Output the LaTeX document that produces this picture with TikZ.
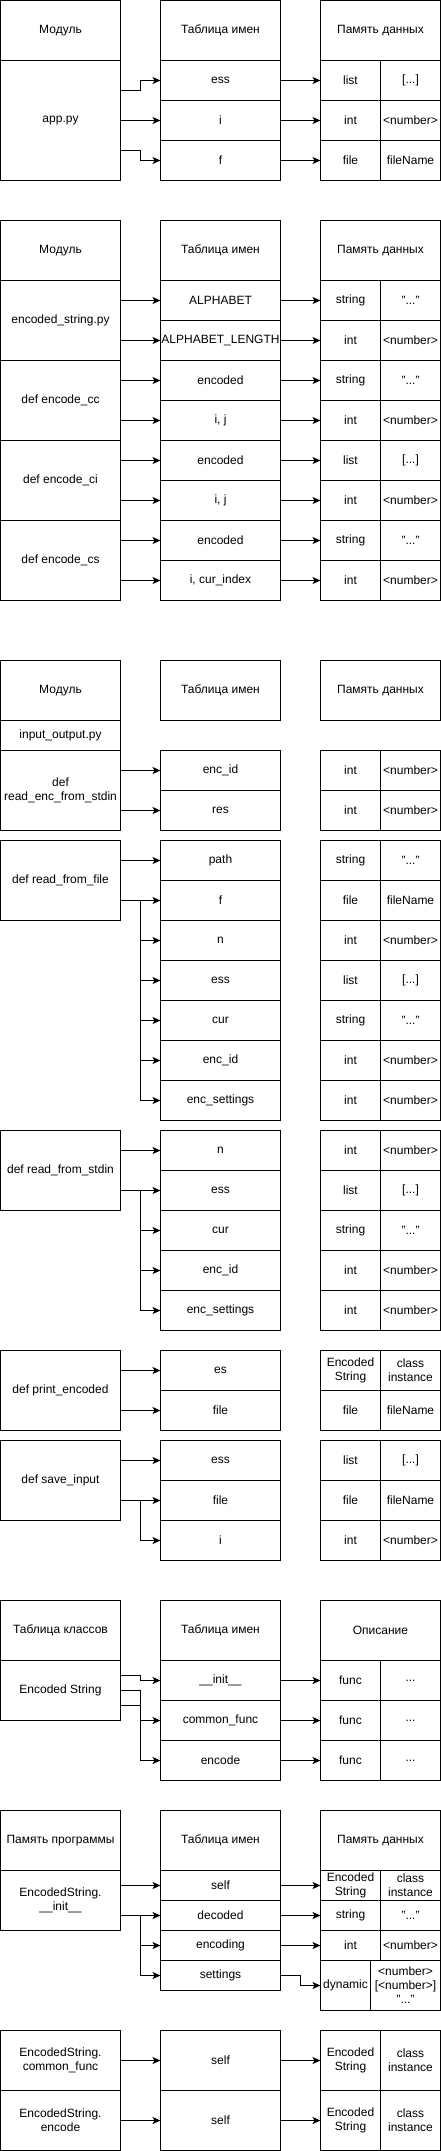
\documentclass[tikz,border=0pt]{standalone}
\usepackage{fontspec}
\setmainfont{Liberation Sans}
\usepackage{tikz}
\usetikzlibrary{arrows.meta}

\begin{document}
\begin{tikzpicture}[x=1pt, y=-1pt,
    box/.style={draw, line width=1pt, inner sep=0pt, outer sep=0pt, anchor=north west,
        align=center, font=\fontsize{12}{14}\selectfont},
    headbox/.style={box, minimum width=120pt, minimum height=60pt},
    varbox/.style={box, minimum width=120pt, minimum height=40pt},
    membox/.style={box, minimum width=60pt, minimum height=40pt},
    link/.style={-{Stealth[length=8pt, width=7pt, inset=2pt]}, line width=1pt}]
        \useasboundingbox (-0.5,-0.5) rectangle (440.5,2150.5);

        % app.py
        \node[headbox] (appHead) at (0,0) {Модуль};
        \node[headbox] (appNames) at (160,0) {Таблица имен};
        \node[headbox] (appData) at (320,0) {Память данных};
        \node[headbox, minimum height=120pt] (appPy) at (0,60) {app.py};
        \node[varbox] (appEss) at (160,60) {ess};
        \node[varbox] (appI) at (160,100) {i};
        \node[varbox] (appF) at (160,140) {f};
        \node[membox] (appEssT) at (320,60) {list};
        \node[membox] (appEssV) at (380,60) {[...]};
        \node[membox] (appIT) at (320,100) {int};
        \node[membox] (appIV) at (380,100) {<number>};
        \node[membox] (appFT) at (320,140) {file};
        \node[membox] (appFV) at (380,140) {fileName};

        \draw[link] ([yshift=30pt]appPy.east) -- ++(20,0) |- (appEss.west);
        \draw[link] (appPy.east) -- (appI.west);
        \draw[link] ([yshift=-30pt]appPy.east) -- ++(20,0) |- (appF.west);
        \draw[link] (appEss.east) -- (appEssT.west);
        \draw[link] (appI.east) -- (appIT.west);
        \draw[link] (appF.east) -- (appFT.west);

        % encoded_string.py
        \node[headbox] (esHead) at (0,220) {Модуль};
        \node[headbox] (esNames) at (160,220) {Таблица имен};
        \node[headbox] (esData) at (320,220) {Память данных};
        \node[headbox, minimum height=80pt] (esPy) at (0,280) {encoded\_string.py};
        \node[headbox, minimum height=80pt] (esCC) at (0,360) {def encode\_cc};
        \node[headbox, minimum height=80pt] (esCI) at (0,440) {def encode\_ci};
        \node[headbox, minimum height=80pt] (esCS) at (0,520) {def encode\_cs};
        \node[varbox] (esAlph) at (160,280) {ALPHABET};
        \node[varbox] (esLen) at (160,320) {ALPHABET\_LENGTH};
        \node[varbox] (ccEnc) at (160,360) {encoded};
        \node[varbox] (ccIJ) at (160,400) {i, j};
        \node[varbox] (ciEnc) at (160,440) {encoded};
        \node[varbox] (ciIJ) at (160,480) {i, j};
        \node[varbox] (csEnc) at (160,520) {encoded};
        \node[varbox] (csIdx) at (160,560) {i, cur\_index};
        \node[membox] (esAlphT) at (320,280) {string};
        \node[membox] (esAlphV) at (380,280) {"..."};
        \node[membox] (esLenT) at (320,320) {int};
        \node[membox] (esLenV) at (380,320) {<number>};
        \node[membox] (ccEncT) at (320,360) {string};
        \node[membox] (ccEncV) at (380,360) {"..."};
        \node[membox] (ccIJT) at (320,400) {int};
        \node[membox] (ccIJV) at (380,400) {<number>};
        \node[membox] (ciEncT) at (320,440) {list};
        \node[membox] (ciEncV) at (380,440) {[...]};
        \node[membox] (ciIJT) at (320,480) {int};
        \node[membox] (ciIJV) at (380,480) {<number>};
        \node[membox] (csEncT) at (320,520) {string};
        \node[membox] (csEncV) at (380,520) {"..."};
        \node[membox] (csIdxT) at (320,560) {int};
        \node[membox] (csIdxV) at (380,560) {<number>};

        \draw[link] (esPy.east |- esAlph) -- (esAlph.west);
        \draw[link] (esPy.east |- esLen) -- (esLen.west);
        \draw[link] (esCC.east |- ccEnc) -- (ccEnc.west);
        \draw[link] (esCC.east |- ccIJ) -- (ccIJ.west);
        \draw[link] (esCI.east |- ciEnc) -- (ciEnc.west);
        \draw[link] (esCI.east |- ciIJ) -- (ciIJ.west);
        \draw[link] (esCS.east |- csEnc) -- (csEnc.west);
        \draw[link] (esCS.east |- csIdx) -- (csIdx.west);
        \draw[link] (esAlph.east) -- (esAlphT.west);
        \draw[link] (esLen.east) -- (esLenT.west);
        \draw[link] (ccEnc.east) -- (ccEncT.west);
        \draw[link] (ccIJ.east) -- (ccIJT.west);
        \draw[link] (ciEnc.east) -- (ciEncT.west);
        \draw[link] (ciIJ.east) -- (ciIJT.west);
        \draw[link] (csEnc.east) -- (csEncT.west);
        \draw[link] (csIdx.east) -- (csIdxT.west);

        % input_output.py
        \node[headbox] (ioHead) at (0,660) {Модуль};
        \node[headbox] (ioNames) at (160,660) {Таблица имен};
        \node[headbox] (ioData) at (320,660) {Память данных};
        \node[headbox, minimum height=30pt] (ioPy) at (0,720) {input\_output.py};

        % def read_enc_from_stdin
        \node[headbox, minimum height=80pt] (rEnc) at (0,750) {def\\read\_enc\_from\_stdin};
        \node[varbox] (reId) at (160,750) {enc\_id};
        \node[varbox] (reRes) at (160,790) {res};
        \node[membox] (reIdT) at (320,750) {int};
        \node[membox] (reIdV) at (380,750) {<number>};
        \node[membox] (reResT) at (320,790) {int};
        \node[membox] (reResV) at (380,790) {<number>};
        \draw[link] (rEnc.east |- reId) -- (reId.west);
        \draw[link] (rEnc.east |- reRes) -- (reRes.west);

        % def read_from_file
        \node[headbox, minimum height=80pt] (rFile) at (0,840) {def read\_from\_file};
        \node[varbox] (rfPath) at (160,840) {path};
        \node[varbox] (rfF) at (160,880) {f};
        \node[varbox] (rfN) at (160,920) {n};
        \node[varbox] (rfEss) at (160,960) {ess};
        \node[varbox] (rfCur) at (160,1000) {cur};
        \node[varbox] (rfId) at (160,1040) {enc\_id};
        \node[varbox] (rfSet) at (160,1080) {enc\_settings};
        \node[membox] (rfPathT) at (320,840) {string};
        \node[membox] (rfPathV) at (380,840) {"..."};
        \node[membox] (rfFT) at (320,880) {file};
        \node[membox] (rfFV) at (380,880) {fileName};
        \node[membox] (rfNT) at (320,920) {int};
        \node[membox] (rfNV) at (380,920) {<number>};
        \node[membox] (rfEssT) at (320,960) {list};
        \node[membox] (rfEssV) at (380,960) {[...]};
        \node[membox] (rfCurT) at (320,1000) {string};
        \node[membox] (rfCurV) at (380,1000) {"..."};
        \node[membox] (rfIdT) at (320,1040) {int};
        \node[membox] (rfIdV) at (380,1040) {<number>};
        \node[membox] (rfSetT) at (320,1080) {int};
        \node[membox] (rfSetV) at (380,1080) {<number>};
        \draw[link] (rFile.east |- rfPath) -- (rfPath.west);
        \draw[link] (rFile.east |- rfF) -- (rfF.west);
        \draw[link] (rFile.east |- rfF) -- ++(20,0) |- (rfN.west);
        \draw[link] (rFile.east |- rfF) -- ++(20,0) |- (rfEss.west);
        \draw[link] (rFile.east |- rfF) -- ++(20,0) |- (rfCur.west);
        \draw[link] (rFile.east |- rfF) -- ++(20,0) |- (rfId.west);
        \draw[link] (rFile.east |- rfF) -- ++(20,0) |- (rfSet.west);

        % def read_from_stdin
        \node[headbox, minimum height=80pt] (rStd) at (0,1130) {def read\_from\_stdin};
        \node[varbox] (rsN) at (160,1130) {n};
        \node[varbox] (rsEss) at (160,1170) {ess};
        \node[varbox] (rsCur) at (160,1210) {cur};
        \node[varbox] (rsId) at (160,1250) {enc\_id};
        \node[varbox] (rsSet) at (160,1290) {enc\_settings};
        \node[membox] (rsNT) at (320,1130) {int};
        \node[membox] (rsNV) at (380,1130) {<number>};
        \node[membox] (rsEssT) at (320,1170) {list};
        \node[membox] (rsEssV) at (380,1170) {[...]};
        \node[membox] (rsCurT) at (320,1210) {string};
        \node[membox] (rsCurV) at (380,1210) {"..."};
        \node[membox] (rsIdT) at (320,1250) {int};
        \node[membox] (rsIdV) at (380,1250) {<number>};
        \node[membox] (rsSetT) at (320,1290) {int};
        \node[membox] (rsSetV) at (380,1290) {<number>};
        \draw[link] (rStd.east |- rsN) -- (rsN.west);
        \draw[link] (rStd.east |- rsEss) -- (rsEss.west);
        \draw[link] (rStd.east |- rsEss) -- ++(20,0) |- (rsCur.west);
        \draw[link] (rStd.east |- rsEss) -- ++(20,0) |- (rsId.west);
        \draw[link] (rStd.east |- rsEss) -- ++(20,0) |- (rsSet.west);

        % def print_encoded
        \node[headbox, minimum height=80pt] (pEnc) at (0,1350) {def print\_encoded};
        \node[varbox] (peEs) at (160,1350) {es};
        \node[varbox] (peFile) at (160,1390) {file};
        \node[membox] (peEsT) at (320,1350) {Encoded\\String};
        \node[membox] (peEsV) at (380,1350) {class\\instance};
        \node[membox] (peFileT) at (320,1390) {file};
        \node[membox] (peFileV) at (380,1390) {fileName};
        \draw[link] (pEnc.east |- peEs) -- (peEs.west);
        \draw[link] (pEnc.east |- peFile) -- (peFile.west);

        % def save_input
        \node[headbox, minimum height=80pt] (sInp) at (0,1440) {def save\_input};
        \node[varbox] (siEss) at (160,1440) {ess};
        \node[varbox] (siFile) at (160,1480) {file};
        \node[varbox] (siI) at (160,1520) {i};
        \node[membox] (siEssT) at (320,1440) {list};
        \node[membox] (siEssV) at (380,1440) {[...]};
        \node[membox] (siFileT) at (320,1480) {file};
        \node[membox] (siFileV) at (380,1480) {fileName};
        \node[membox] (siIT) at (320,1520) {int};
        \node[membox] (siIV) at (380,1520) {<number>};
        \draw[link] (sInp.east |- siEss) -- (siEss.west);
        \draw[link] (sInp.east |- siFile) -- (siFile.west);
        \draw[link] (sInp.east |- siFile) -- ++(20,0) |- (siI.west);

        % class table
        \node[headbox] (clsHead) at (0,1600) {Таблица классов};
        \node[headbox] (clsNames) at (160,1600) {Таблица имен};
        \node[headbox] (clsDescr) at (320,1600) {Описание};
        \node[headbox] (clsES) at (0,1660) {Encoded String};
        \node[varbox] (clsInit) at (160,1660) {\_\_init\_\_};
        \node[varbox] (clsCommon) at (160,1700) {common\_func};
        \node[varbox] (clsEncode) at (160,1740) {encode};
        \node[membox] (clsInitT) at (320,1660) {func};
        \node[membox] (clsInitV) at (380,1660) {...};
        \node[membox] (clsCommonT) at (320,1700) {func};
        \node[membox] (clsCommonV) at (380,1700) {...};
        \node[membox] (clsEncodeT) at (320,1740) {func};
        \node[membox] (clsEncodeV) at (380,1740) {...};
        \draw[link] ([yshift=15pt]clsES.east) -- ++(20,0) |- (clsInit.west);
        \draw[link] (clsES.east) -- ++(20,0) |- (clsCommon.west);
        \draw[link] ([yshift=-15pt]clsES.east) -- ++(20,0) |- (clsEncode.west);
        \draw[link] (clsInit.east) -- (clsInitT.west);
        \draw[link] (clsCommon.east) -- (clsCommonT.west);
        \draw[link] (clsEncode.east) -- (clsEncodeT.west);

        % EncodedString.__init__
        \node[headbox] (prgHead) at (0,1810) {Память программы};
        \node[headbox] (prgNames) at (160,1810) {Таблица имен};
        \node[headbox] (prgData) at (320,1810) {Память данных};
        \node[headbox] (initMod) at (0,1870) {EncodedString.\\\_\_init\_\_};
        \node[varbox, minimum height=30pt] (inSelf) at (160,1870) {self};
        \node[varbox, minimum height=30pt] (inDec) at (160,1900) {decoded};
        \node[varbox, minimum height=30pt] (inEnc) at (160,1930) {encoding};
        \node[varbox, minimum height=30pt] (inSet) at (160,1960) {settings};
        \node[membox, minimum height=30pt] (inSelfT) at (320,1870) {Encoded\\String};
        \node[membox, minimum height=30pt] (inSelfV) at (380,1870) {class\\instance};
        \node[membox, minimum height=30pt] (inDecT) at (320,1900) {string};
        \node[membox, minimum height=30pt] (inDecV) at (380,1900) {"..."};
        \node[membox, minimum height=30pt] (inEncT) at (320,1930) {int};
        \node[membox, minimum height=30pt] (inEncV) at (380,1930) {<number>};
        \node[box, minimum width=50pt, minimum height=50pt] (inSetT) at (320,1960) {dynamic};
        \node[box, minimum width=70pt, minimum height=50pt] (inSetV) at (370,1960) {<number>\\{[<number>]}\\"..."};
        \draw[link] ([yshift=15pt]initMod.east) -- (inSelf.west);
        \draw[link] ([yshift=-15pt]initMod.east) -- (inDec.west);
        \draw[link] ([yshift=-15pt]initMod.east) -- ++(20,0) |- (inEnc.west);
        \draw[link] ([yshift=-15pt]initMod.east) -- ++(20,0) |- (inSet.west);
        \draw[link] (inSelf.east) -- (inSelfT.west);
        \draw[link] (inDec.east) -- (inDecT.west);
        \draw[link] (inEnc.east) -- (inEncT.west);
        \draw[link] (inSet.east) -- ++(20,0) |- (inSetT.west);

        % EncodedString.common_func / encode
        \node[headbox] (cfMod) at (0,2030) {EncodedString.\\common\_func};
        \node[headbox] (ceMod) at (0,2090) {EncodedString.\\encode};
        \node[headbox] (cfSelf) at (160,2030) {self};
        \node[headbox] (ceSelf) at (160,2090) {self};
        \node[membox, minimum height=60pt] (cfSelfT) at (320,2030) {Encoded\\String};
        \node[membox, minimum height=60pt] (cfSelfV) at (380,2030) {class\\instance};
        \node[membox, minimum height=60pt] (ceSelfT) at (320,2090) {Encoded\\String};
        \node[membox, minimum height=60pt] (ceSelfV) at (380,2090) {class\\instance};
        \draw[link] (cfMod.east) -- (cfSelf.west);
        \draw[link] (ceMod.east) -- (ceSelf.west);
        \draw[link] (cfSelf.east) -- (cfSelfT.west);
        \draw[link] (ceSelf.east) -- (ceSelfT.west);
    \end{tikzpicture}
\end{document}
